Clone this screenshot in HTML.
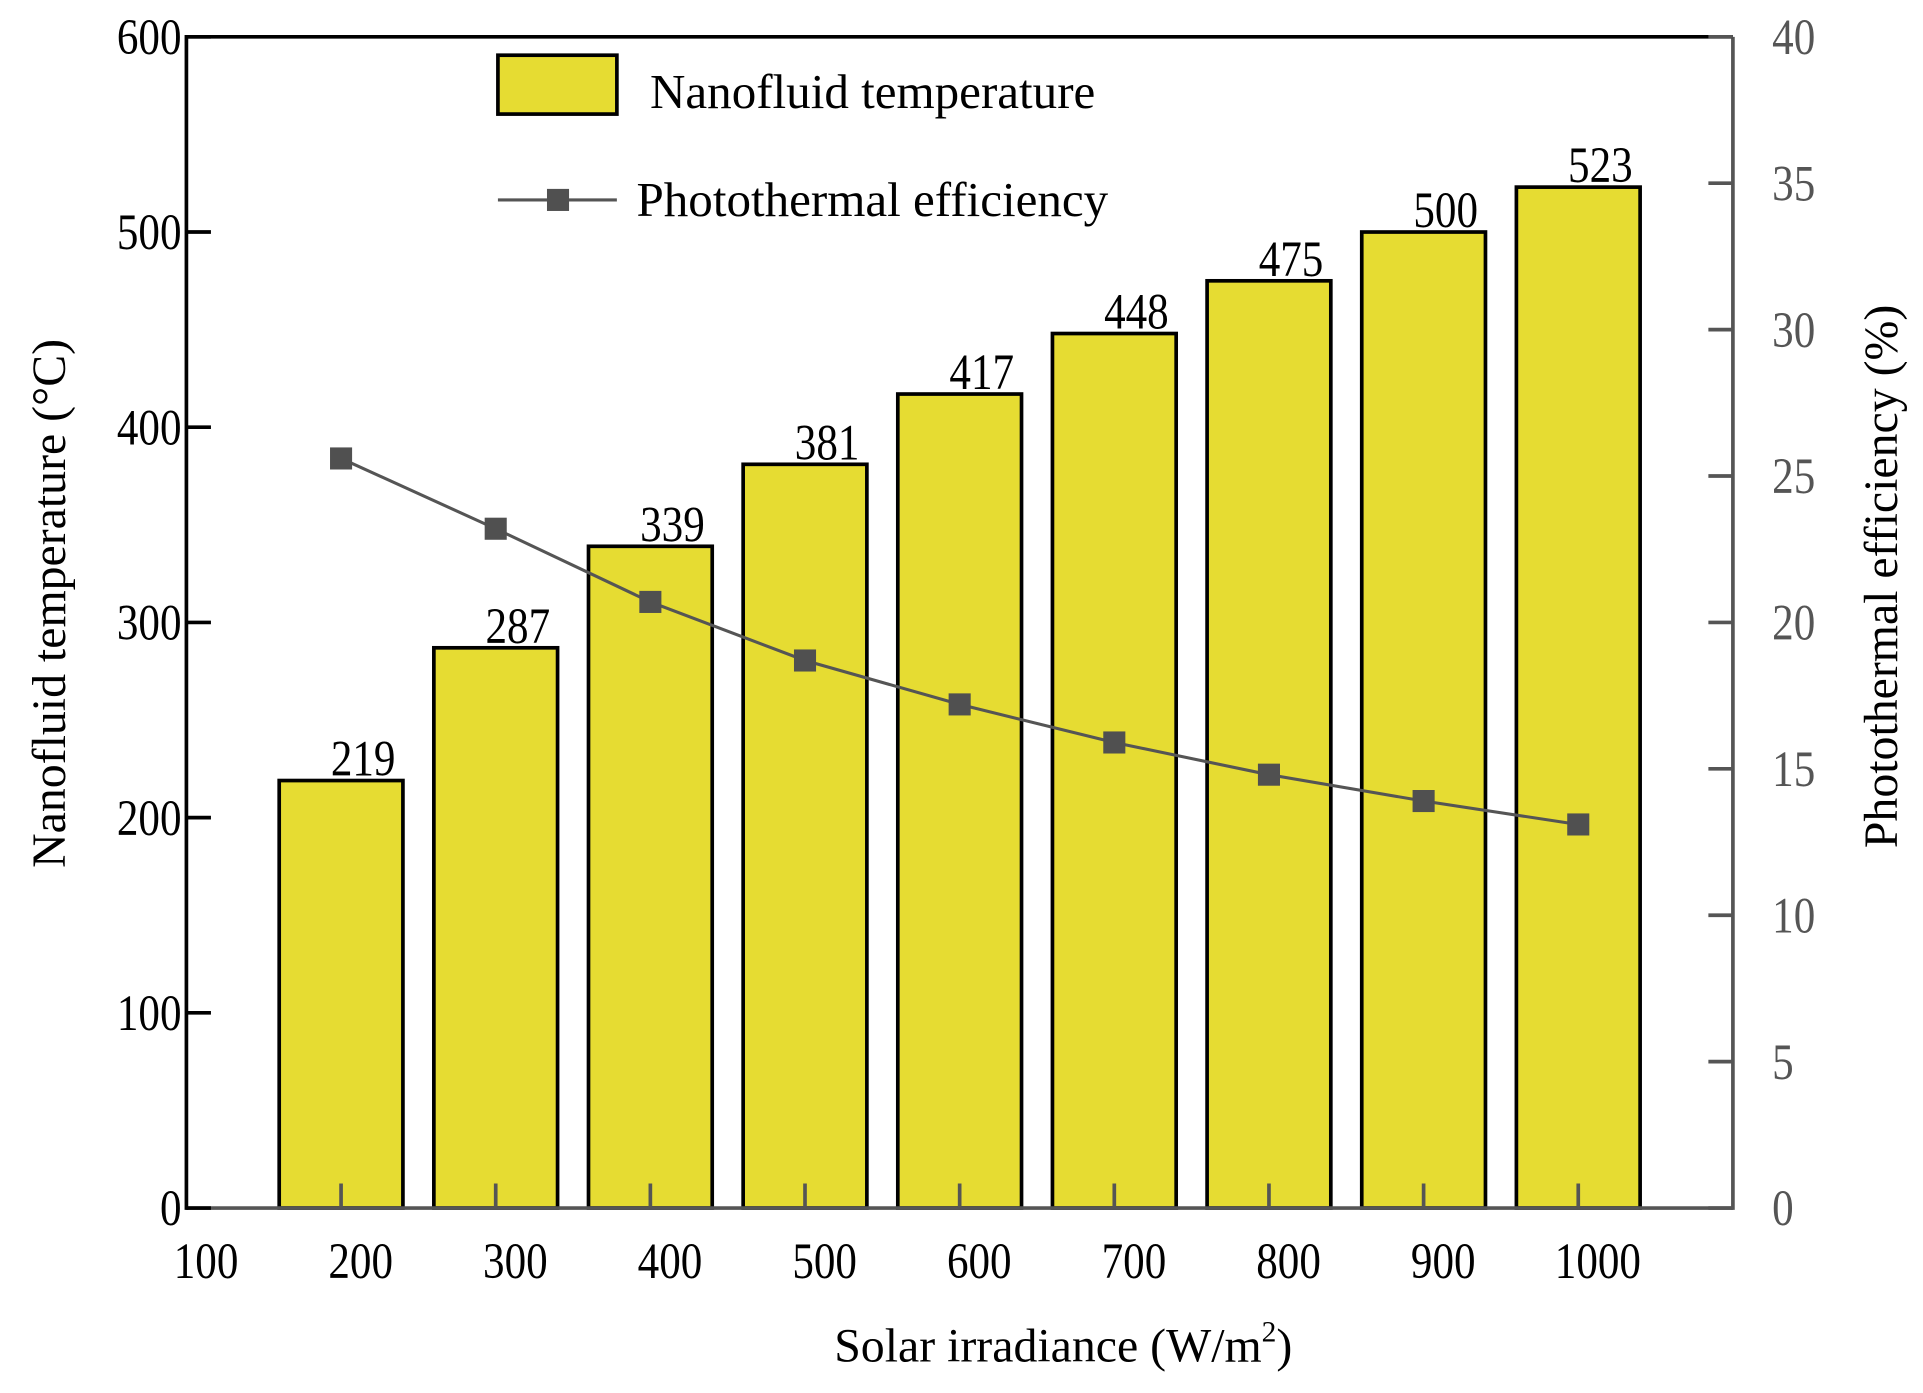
<!DOCTYPE html>
<html><head><meta charset="utf-8"><style>
html,body{margin:0;padding:0;background:#fff;}
svg{display:block;font-family:"Liberation Serif","Noto Serif CJK SC",serif;}
</style></head><body>
<svg id="chart" width="1923" height="1393" viewBox="0 0 1568 1135.8" xmlns="http://www.w3.org/2000/svg"></svg>
<script>
const categories=[200,300,400,500,600,700,800,900,1000];
const temps=[219,287,339,381,417,448,475,500,523];
const effs=[25.6,23.2,20.7,18.7,17.2,15.9,14.8,13.9,13.1];
const xTicks=[100,200,300,400,500,600,700,800,900,1000];
const yLeftTicks=[0,100,200,300,400,500,600];
const yRightTicks=[0,5,10,15,20,25,30,35,40];

const L=152,R=1413,T=30,B=985;
const x=v=>L+(v-100)/1000*(R-L);
const yL=v=>B-v/600*(B-T);
const yR=v=>B-v/40*(B-T);
const svg=document.getElementById('chart');
const NS='http://www.w3.org/2000/svg';
function mk(tag,attrs,parent){const e=document.createElementNS(NS,tag);for(const k in attrs)e.setAttribute(k,attrs[k]);(parent||svg).appendChild(e);return e;}
function tall(t,px,py){t.setAttribute('transform','translate('+px+','+py+') scale(0.95,1.12)');}

const bw=80/1000*(R-L);
categories.forEach((c,i)=>{
  const r=mk('rect',{x:x(c)-bw/2,y:yL(temps[i]),width:bw,height:B-yL(temps[i]),fill:'#e6dc32',stroke:'#000','stroke-width':3});
  
  
  const t=mk('text',{x:0,y:0,'font-size':37,'text-anchor':'middle',fill:'#000'});
  tall(t,x(c)+18,yL(temps[i])-4);
  t.textContent=temps[i];
  
  
});
mk('line',{x1:L,y1:B,x2:R,y2:B,stroke:'#555','stroke-width':3,});
mk('line',{x1:R,y1:T,x2:R,y2:B+1.5,stroke:'#555','stroke-width':3,});
mk('line',{x1:L,y1:T,x2:R,y2:T,stroke:'#000','stroke-width':3,});
mk('line',{x1:L,y1:T-1.5,x2:L,y2:B+1.5,stroke:'#000','stroke-width':3,});
yLeftTicks.forEach(v=>{
  const tk=mk('line',{x1:L,y1:yL(v),x2:L+20,y2:yL(v),stroke:'#000','stroke-width':3});
  
  
  const t=mk('text',{x:0,y:0,'font-size':37,'text-anchor':'end',fill:'#000'});
  tall(t,L-4,yL(v)+14);
  t.textContent=v;
  
  
});
yRightTicks.forEach(v=>{
  const tk=mk('line',{x1:R-20,y1:yR(v),x2:R,y2:yR(v),stroke:'#555','stroke-width':3});
  
  
  const t=mk('text',{x:0,y:0,'font-size':37,'text-anchor':'start',fill:'#555'});
  tall(t,R+32,yR(v)+14);
  t.textContent=v;
  
  
});
xTicks.forEach(v=>{
  if(v>100){
    const tk=mk('line',{x1:x(v),y1:B,x2:x(v),y2:B-20,stroke:'#555','stroke-width':3});
    
    
  }
  const t=mk('text',{x:0,y:0,'font-size':37,'text-anchor':'middle',fill:'#000'});
  tall(t,x(v)+16,1042);
  t.textContent=v;
  
  
});
const pts=categories.map((c,i)=>x(c)+','+yR(effs[i])).join(' ');
mk('polyline',{points:pts,fill:'none',stroke:'#555','stroke-width':2.5,});
categories.forEach((c,i)=>{
  const m=mk('rect',{x:x(c)-9,y:yR(effs[i])-9,width:18,height:18,fill:'#505050'});
  
  
});
</script>
<svg style="position:absolute;left:0;top:0" width="1923" height="1393" viewBox="0 0 1568 1135.8" xmlns="http://www.w3.org/2000/svg" font-family="Liberation Serif, serif">
 <g>
  <rect x="406" y="45" width="97" height="48" fill="#e6dc32" stroke="#000" stroke-width="3"/>
  <text x="530" y="88" font-size="40">Nanofluid temperature</text>
  <line x1="406" y1="163" x2="503" y2="163" stroke="#555" stroke-width="2.5"/>
  <rect x="446" y="154" width="18" height="18" fill="#505050"/>
  <text x="519" y="176" font-size="40">Photothermal efficiency</text>
 </g>
 <text transform="translate(53,492) rotate(-90)" text-anchor="middle" font-size="39">Nanofluid temperature (°C)</text>
 <text transform="translate(1547,470) rotate(-90)" text-anchor="middle" font-size="39">Photothermal efficiency (%)</text>
 <text x="867" y="1110" text-anchor="middle" font-size="39">Solar irradiance (W/m<tspan dy="-16" font-size="24">2</tspan><tspan dy="16">)</tspan></text>
</svg>
</body></html>
